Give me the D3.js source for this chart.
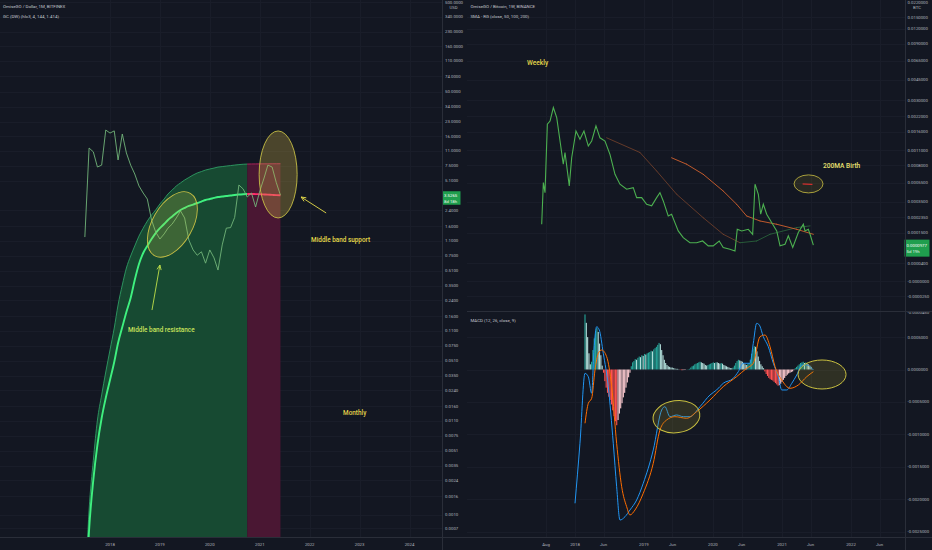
<!DOCTYPE html>
<html><head><meta charset="utf-8">
<script src="https://cdn.jsdelivr.net/npm/d3@7/dist/d3.min.js"></script>
<style>html,body{margin:0;padding:0;background:#131722;overflow:hidden}svg{display:block}</style>
</head><body>
<svg id="chart" width="932" height="550"></svg>
<script>
// ================= DATA =================
// --- Left pane: OmiseGO / Dollar, 1M (monthly) ---
const months = ['2017-07','2017-08','2017-09','2017-10','2017-11','2017-12',
  '2018-01','2018-02','2018-03','2018-04','2018-05','2018-06','2018-07','2018-08','2018-09','2018-10','2018-11','2018-12',
  '2019-01','2019-02','2019-03','2019-04','2019-05','2019-06','2019-07','2019-08','2019-09','2019-10','2019-11','2019-12',
  '2020-01','2020-02','2020-03','2020-04','2020-05','2020-06','2020-07','2020-08','2020-09','2020-10','2020-11','2020-12',
  '2021-01','2021-02','2021-03','2021-04','2021-05','2021-06'];
const omgUsd = [1.21,11.8,10.7,7.26,7.62,18.7,17.3,18.3,8.69,16.9,10.4,7.62,6.07,4.47,3.73,3.20,1.87,1.38,
  1.15,1.31,1.52,1.69,1.97,2.36,1.97,1.12,0.87,0.76,0.83,0.62,0.87,0.71,0.52,0.99,1.52,1.54,
  2.0,4.58,4.14,3.37,3.73,2.61,3.93,5.48,7.62,7.26,4.9,3.53];
const gcUpper = [0.000112,0.00112,0.0040,0.0112,0.0213,0.0383,0.0673,0.118,0.213,0.355,0.548,0.745,
  0.962,1.24,1.52,1.82,2.13,2.42,2.82,3.20,3.64,4.03,4.47,4.83,
  5.21,5.55,5.92,6.23,6.47,6.72,6.90,7.07,7.25,7.34,7.44,7.53,
  7.63,7.72,7.79,7.83,7.85,7.86,7.87,7.88,7.88,7.89,7.89,7.90];
const gcMid = [0.000067,0.000673,0.00242,0.00592,0.0118,0.0197,0.0312,0.0495,0.0805,0.121,0.178,0.255,
  0.403,0.607,0.805,0.962,1.15,1.34,1.52,1.69,1.87,2.05,2.24,2.42,
  2.55,2.68,2.78,2.89,3.00,3.12,3.20,3.29,3.37,3.41,3.46,3.50,
  3.55,3.59,3.62,3.64,3.64,3.63,3.62,3.60,3.58,3.56,3.54,3.53];
const gcRedFrom = '2020-10';
const leftPriceTicks = ['500.0000','340.0000','230.0000','160.0000','110.0000','74.0000','50.0000','34.0000','23.0000',
  '16.0000','11.0000','7.5000','5.1000','2.4000','1.6000','1.1000','0.7500','0.5100','0.3500','0.2400','0.1600',
  '0.1100','0.0750','0.0510','0.0350','0.0240','0.0160','0.0110','0.0075','0.0051','0.0035','0.0024','0.0016','0.0010','0.0007'];
const leftTimeTicks = ['2018','2019','2020','2021','2022','2023','2024'];
const leftLast = {price:'3.5265', left:'8d 18h'};

// --- Right pane: OmiseGO / Bitcoin, 1W (weekly), decimal-year time stamps ---
const wkTime = [2017.517,2017.541,2017.565,2017.599,2017.638,2017.686,2017.735,2017.783,2017.830,2017.855,2017.917,2017.952,
  2018.014,2018.072,2018.130,2018.193,2018.242,2018.304,2018.362,2018.435,2018.507,2018.580,2018.652,2018.749,2018.845,2018.894,2018.967,
  2019.039,2019.112,2019.184,2019.232,2019.280,2019.352,2019.401,2019.449,2019.497,2019.570,2019.667,2019.764,2019.851,2019.932,
  2020.004,2020.091,2020.149,2020.246,2020.319,2020.352,2020.416,2020.512,2020.575,2020.609,2020.657,2020.691,2020.729,2020.778,2020.851,2020.923,2020.971,
  2021.043,2021.091,2021.155,2021.236,2021.309,2021.333,2021.381,2021.406,2021.454];
const wkClose = [0.000194,0.000549,0.000436,0.00187,0.00199,0.00260,0.00213,0.00133,0.00082,0.00105,0.00051,0.00094,
  0.00163,0.00138,0.00163,0.00120,0.00133,0.00181,0.00142,0.00133,0.00101,0.00066,0.00053,0.000472,0.00049,0.000388,0.000388,
  0.00033,0.000317,0.000388,0.000436,0.000358,0.000244,0.000256,0.000203,0.000159,0.000128,0.000107,0.000107,0.000114,0.000095,
  0.000095,0.000114,0.000089,0.000083,0.000077,0.000167,0.000159,0.000167,0.000143,0.00053,0.00042,0.000256,0.00033,0.000256,0.000203,0.000159,0.000095,
  0.000101,0.000136,0.000089,0.000151,0.000194,0.000159,0.000167,0.000143,0.000098];
const sma50Time = [2018.459,2018.942,2019.184,2019.474,2019.859,2020.149,2020.391,2020.633,2020.826,2021.213,2021.406];
const sma50 = [0.00142,0.00105,0.000709,0.00042,0.000233,0.000143,0.000107,0.000114,0.000143,0.000176,0.000185];
const sma100Time = [2019.401,2019.619,2019.859,2020.149,2020.343,2020.488,2020.681,2020.923,2021.213,2021.454];
const sma100 = [0.00094,0.00082,0.00066,0.000453,0.00033,0.000244,0.000213,0.000194,0.000167,0.000143];
const sma200Time = [2021.304,2021.435];
const sma200 = [0.000532,0.000528];
const rightPriceTicks = ['0.0220000','0.0150000','0.0120000','0.0090000','0.0065000','0.0045000','0.0030000','0.0022000',
  '0.0016000','0.0011000','0.0008000','0.0005500','0.0003500','0.0002350','0.0001500','0.0000400','-0.0000000','-0.0000250','-0.0000450'];
const rightLast = {price:'0.0000977', left:'5d 19h'};

// --- MACD (12, 26, close, 9) ---
const histStart = 2018.145;           // first weekly histogram bar
const macdHist = [0.00085,0.00072,0.00050,0.00025,0.00008,
  0.00012,0.00030,0.00048,0.00060,0.00064,0.00058,0.00040,0.00022,0.00006,
  -0.00005,-0.00018,-0.00028,-0.00036,-0.00042,-0.00047,-0.00054,-0.00063,-0.00072,-0.00080,-0.00086,-0.00078,-0.00068,-0.00060,-0.00052,-0.00043,-0.00036,-0.00028,-0.00020,-0.00012,-0.00005,
  0.00005,0.00011,0.00013,0.00016,0.00015,0.00018,0.00020,0.00019,0.00022,0.00021,0.00024,0.00023,0.00025,0.00026,0.00027,0.00029,0.00028,0.00031,0.00033,0.00035,0.00038,0.00041,0.00039,0.00030,0.00022,0.00015,0.00010,0.00007,0.00005,0.00004,
  0.00003,0.00003,0.00002,0.000015,0.00001,0.00001,0.000005,-0.000005,-0.00001,-0.00001,-0.000008,-0.000005,0.000002,0.000005,0.00001,
  0.00003,0.00005,0.00006,0.00008,0.00009,0.00010,0.00011,0.00012,0.00011,0.00010,0.00009,0.00007,0.00006,0.00007,0.00008,0.00009,0.00010,0.00011,0.00010,0.00011,0.00011,0.00010,0.00009,0.00010,0.00009,0.00007,0.00006,0.00005,0.00004,0.00003,0.00002,0.00002,0.00003,
  0.00006,0.00010,0.00013,0.00015,0.00014,0.00013,0.00012,0.00010,0.00008,0.00007,0.00008,0.00010,0.00015,0.00024,0.00032,0.00036,0.00035,0.00028,0.00020,0.00013,0.00008,0.00005,0.00002,
  -0.00003,-0.00007,-0.00010,-0.00013,-0.00015,-0.00016,-0.00017,-0.00019,-0.00021,-0.00023,-0.00025,-0.00024,-0.00022,-0.00019,-0.00016,-0.00013,-0.00010,-0.00008,-0.00006,-0.00005,-0.00004,-0.00003,-0.00001,
  0.00002,0.00004,0.00006,0.00008,0.00010,0.00011,0.00012,0.00010,0.00011,0.00009,0.00008,0.00006,0.00004];
const macdTime = [2018.000,2018.072,2018.145,2018.193,2018.242,2018.275,2018.314,2018.352,2018.410,2018.483,2018.555,2018.604,2018.652,2018.725,2018.797,2018.894,2018.990,
  2019.135,2019.257,2019.304,2019.377,2019.474,2019.570,2019.667,2019.812,2019.957,2020.054,2020.149,2020.294,2020.367,2020.439,2020.536,2020.584,2020.633,2020.671,2020.729,2020.801,2020.874,2020.946,2020.996,
  2021.068,2021.141,2021.213,2021.286,2021.358,2021.454];
const macdLine = [-0.002065,-0.001139,-0.000059,-0.000111,-0.000367,0.000301,0.000660,0.000610,0.000250,-0.000265,-0.001139,-0.001809,-0.002323,-0.002272,-0.002168,-0.002014,-0.001756,
  -0.001242,-0.000625,-0.000574,-0.000728,-0.000702,-0.000728,-0.000728,-0.000574,-0.000394,-0.000316,-0.000213,-0.000136,-0.000034,0.000096,0.000096,0.000404,0.000713,0.000687,0.000506,0.000352,0.000096,-0.000111,-0.000316,
  -0.000316,-0.000213,-0.000085,0.000069,0.000069,-0.000008];
const signalTime = [2018.145,2018.193,2018.242,2018.290,2018.338,2018.387,2018.459,2018.532,2018.604,2018.677,2018.749,2018.797,2018.870,2018.990,
  2019.135,2019.232,2019.329,2019.449,2019.619,2019.764,2019.957,2020.149,2020.343,2020.488,2020.584,2020.681,2020.754,2020.826,2020.899,2020.996,
  2021.116,2021.236,2021.358,2021.454];
const signalLine = [-0.000830,-0.000522,-0.000444,-0.000008,0.000250,0.000301,0.000198,-0.000265,-0.001139,-0.001809,-0.002117,-0.002245,-0.002168,-0.001910,
  -0.001448,-0.000934,-0.000779,-0.000728,-0.000753,-0.000651,-0.000471,-0.000265,-0.000111,0.000019,0.000096,0.000506,0.000532,0.000352,0.000043,-0.000162,
  -0.000290,-0.000239,-0.000111,-0.000034];
const macdTicks = ['0.0005000','0.0000000','-0.0005000','-0.0010000','-0.0015000','-0.0020000','-0.0025000'];
const rightTimeTicks = [['2017-08-01','Aug'],['2018-01-01','2018'],['2018-06-01','Jun'],['2019-01-01','2019'],['2019-06-01','Jun'],
  ['2020-01-01','2020'],['2020-06-01','Jun'],['2021-01-01','2021'],['2021-06-01','Jun'],['2022-01-01','2022'],['2022-06-01','Jun']];

// --- Drawings (in data coordinates) ---
const leftNotes = [
  {text:'Middle band resistance', t:2018.361, v:0.1065, color:'#c9e35c'},
  {text:'Middle band support', t:2022.028, v:1.066, color:'#e6dc4a'},
  {text:'Monthly', t:2022.669, v:0.01272, color:'#e3d24a'}];
const leftEllipses = [{t:2019.25, v:1.67, rx:20, ry:36, rot:30, fill:'rgba(200,200,70,0.22)'},
                      {t:2021.367, v:6.0, rx:19, ry:43.5, rot:0, fill:'rgba(205,175,70,0.30)'}];
const leftArrows = [{t0:2018.842, v0:0.187, t1:2019.0, v1:0.592, color:'#c0e04a'},
                    {t0:2022.329, v0:2.24, t1:2021.828, v1:3.37, color:'#e6dc4a'}];
const rightNotes = [{text:'Weekly', t:2017.304, v:0.00597, color:'#e3d84a'},
                    {text:'200MA Birth', t:2021.594, v:0.000757, color:'#e8e070'}];
const birthEllipse = {t:2021.384, v:0.000533, rx:14.5, ry:9};
const macdEllipses = [{t:2019.471, v:-0.000728, rx:23.5, ry:16, rot:-8}, {t:2021.580, v:-0.000077, rx:24, ry:14.5, rot:0}];

// ================= RENDER =================
const FONT = 'Roboto, "Liberation Sans", Arial, sans-serif';
const BG = '#131722', GRID = '#191d29', BORDER = '#2a2e39', TXT = '#b2b5be';
const svg = d3.select('#chart');
svg.append('rect').attr('width',932).attr('height',550).attr('fill',BG);
const defs = svg.append('defs');
function clip(id,x,y,w,h){defs.append('clipPath').attr('id',id).append('rect').attr('x',x).attr('y',y).attr('width',w).attr('height',h);return `url(#${id})`;}
const cL = clip('cl',0,0,442,537), cT = clip('ct',467,0,438,311), cM = clip('cm',467,312,438,225);
function marker(id,color){defs.append('marker').attr('id',id).attr('viewBox','0 0 10 10').attr('refX',9).attr('refY',5)
  .attr('markerUnits','userSpaceOnUse').attr('markerWidth',6).attr('markerHeight',6).attr('orient','auto')
  .append('path').attr('d','M1,1.5 L9,5 L1,8.5').attr('fill','none').attr('stroke',color).attr('stroke-width',1.4);}

const yrDate = d => {const y=Math.floor(d);const s=Date.UTC(y,0,1),e=Date.UTC(y+1,0,1);return new Date(s+(d-y)*(e-s));};
const monDate = s => new Date(s+'-01T00:00:00Z');
const dayDate = s => new Date(s+'T00:00:00Z');
const labelY = y => Math.max(y, 2.4);   // keep top-most axis labels inside the picture

// ---------- LEFT PANE ----------
const xL = d3.scaleUtc().domain([Date.UTC(2018,0,1),Date.UTC(2024,0,1)]).range([110,409.5]);
const yL = d3.scaleLog().domain([1,1000]).range([244.5,-25.5]);
const gL = svg.append('g');
const gridL = gL.append('g').attr('stroke',GRID).attr('stroke-width',1);
leftPriceTicks.forEach(s=>{const y=Math.round(yL(+s))+0.5;gridL.append('line').attr('x1',0).attr('x2',442).attr('y1',y).attr('y2',y);});
leftTimeTicks.forEach(s=>{const x=Math.round(xL(dayDate(s+'-01-01')))+0.5;gridL.append('line').attr('x1',x).attr('x2',x).attr('y1',0).attr('y2',537);});

const recL = months.map((m,i)=>({t:monDate(m),up:gcUpper[i],mid:gcMid[i],px:omgUsd[i]}));
const iRed = months.indexOf(gcRedFrom);
const grn = recL.slice(0,iRed+1), red = recL.slice(iRed);
const pL = gL.append('g').attr('clip-path',cL);
const areaUp = d3.area().x(d=>xL(d.t)).y0(537).y1(d=>yL(d.up)).curve(d3.curveMonotoneX);
pL.append('path').datum(grn).attr('d',areaUp).attr('fill','#174a32');
pL.append('path').datum(red).attr('d',areaUp).attr('fill','#4a1733');
const lUp = d3.line().x(d=>xL(d.t)).y(d=>yL(d.up)).curve(d3.curveMonotoneX);
const lMid = d3.line().x(d=>xL(d.t)).y(d=>yL(d.mid)).curve(d3.curveMonotoneX);
pL.append('path').datum(grn).attr('d',lUp).attr('fill','none').attr('stroke','#2f9d64').attr('stroke-width',0.9);
pL.append('path').datum(red).attr('d',lUp).attr('fill','none').attr('stroke','#b8245e').attr('stroke-width',0.9);
pL.append('path').datum(grn).attr('d',lMid).attr('fill','none').attr('stroke','#3ff07f').attr('stroke-width',1.9);
pL.append('path').datum(red).attr('d',lMid).attr('fill','none').attr('stroke','#ff2d6b').attr('stroke-width',1.9);
pL.append('path').datum(recL).attr('d',d3.line().x(d=>xL(d.t)).y(d=>yL(d.px))).attr('fill','none').attr('stroke','#72b479').attr('stroke-width',0.9);

leftEllipses.forEach(e=>{const cx=xL(yrDate(e.t)),cy=yL(e.v);
  pL.append('ellipse').attr('cx',0).attr('cy',0).attr('rx',e.rx).attr('ry',e.ry).attr('transform',`translate(${cx},${cy}) rotate(${e.rot})`)
   .attr('fill',e.fill).attr('stroke','#c7bf45').attr('stroke-width',0.9);});
leftArrows.forEach((a,i)=>{marker('al'+i,a.color);
  pL.append('line').attr('x1',xL(yrDate(a.t0))).attr('y1',yL(a.v0)).attr('x2',xL(yrDate(a.t1))).attr('y2',yL(a.v1))
   .attr('stroke',a.color).attr('stroke-width',0.9).attr('marker-end',`url(#al${i})`);});
leftNotes.forEach(n=>pL.append('text').attr('x',xL(yrDate(n.t))).attr('y',yL(n.v)).attr('fill',n.color)
  .attr('font-family',FONT).attr('font-size',6.4).attr('font-weight',500).text(n.text));

// left axes text
const axL = gL.append('g').attr('font-family',FONT).attr('font-size',4.3).attr('fill',TXT);
leftPriceTicks.forEach(s=>axL.append('text').attr('x',445).attr('y',labelY(yL(+s))).attr('dy','0.35em').text(s));
axL.append('text').attr('x',453.5).attr('y',7.5).attr('dy','0.35em').attr('text-anchor','middle').text('USD');
leftTimeTicks.forEach(s=>axL.append('text').attr('x',xL(dayDate(s+'-01-01'))).attr('y',544.5).attr('dy','0.35em').attr('text-anchor','middle').text(s));
{const y=yL(+leftLast.price);
 gL.append('rect').attr('x',442).attr('y',y-4).attr('width',18.5).attr('height',13.5).attr('fill','#1f9e4e');
 gL.append('text').attr('x',444).attr('y',y).attr('dy','0.35em').attr('font-family',FONT).attr('font-size',4.3).attr('fill','#ffffff').text(leftLast.price);
 gL.append('text').attr('x',444).attr('y',y+6).attr('dy','0.35em').attr('font-family',FONT).attr('font-size',4.3).attr('fill','#e8f5e9').text(leftLast.left);}
gL.append('text').attr('x',3).attr('y',6).attr('dy','0.35em').attr('font-family',FONT).attr('font-size',4.4).attr('fill','#c3c6ce').text('OmiseGO / Dollar, 1M, BITFINEX');
gL.append('text').attr('x',3).attr('y',16).attr('dy','0.35em').attr('font-family',FONT).attr('font-size',4.4).attr('fill','#c3c6ce').text('GC (DW) (hlc3, 4, 144, 1.414)');

// ---------- RIGHT PANE ----------
const xR = d3.scaleUtc().domain([Date.UTC(2018,0,1),Date.UTC(2022,0,1)]).range([575,851]);
const OFF = 1e-4;
const lgT = d3.scaleLog().domain([0.015+OFF, OFF]).range([17,281]);
const yT = v => lgT(v+OFF);
const yM = d3.scaleLinear().domain([0,-0.0025]).range([369.5,531.5]);
const gR = svg.append('g');
const gridR = gR.append('g').attr('stroke',GRID).attr('stroke-width',1);
rightPriceTicks.forEach(s=>{const y=Math.round(yT(+s))+0.5;if(y<311&&y>0)gridR.append('line').attr('x1',467).attr('x2',905).attr('y1',y).attr('y2',y);});
macdTicks.forEach(s=>{const y=Math.round(yM(+s))+0.5;gridR.append('line').attr('x1',467).attr('x2',905).attr('y1',y).attr('y2',y);});
rightTimeTicks.forEach(([d])=>{const x=Math.round(xR(dayDate(d)))+0.5;gridR.append('line').attr('x1',x).attr('x2',x).attr('y1',0).attr('y2',537);});

const pT = gR.append('g').attr('clip-path',cT);
const wk = wkTime.map((t,i)=>({t:yrDate(t),v:wkClose[i]}));
function slopeLine(g,times,vals,cDown,cUp,w,op){
  const pts = times.map((t,i)=>({t:yrDate(t),v:vals[i]}));
  d3.pairs(pts).forEach(([a,b])=>g.append('line').attr('x1',xR(a.t)).attr('y1',yT(a.v)).attr('x2',xR(b.t)).attr('y2',yT(b.v))
    .attr('stroke',b.v<a.v?cDown:cUp).attr('stroke-width',w).attr('stroke-opacity',op).attr('stroke-linecap','round'));
}
slopeLine(pT,sma50Time,sma50,'#8a4a2c','#2f7a42',0.8,0.85);
slopeLine(pT,sma100Time,sma100,'#d0602e','#3a9a52',1.0,0.9);
pT.append('path').datum(wk).attr('d',d3.line().x(d=>xR(d.t)).y(d=>yT(d.v))).attr('fill','none').attr('stroke','#4cb050').attr('stroke-width',1.1);
pT.append('ellipse').attr('cx',xR(yrDate(birthEllipse.t))).attr('cy',yT(birthEllipse.v)).attr('rx',birthEllipse.rx).attr('ry',birthEllipse.ry)
  .attr('fill','rgba(140,130,45,0.18)').attr('stroke','#b8ae3e').attr('stroke-width',0.9);
slopeLine(pT,sma200Time,sma200,'#ff3030','#ff3030',1.0,1);
rightNotes.forEach(n=>pT.append('text').attr('x',xR(yrDate(n.t))).attr('y',yT(n.v)).attr('fill',n.color)
  .attr('font-family',FONT).attr('font-size',6.6).attr('font-weight',500).text(n.text));

// MACD
const pM = gR.append('g').attr('clip-path',cM);
const h0 = yrDate(histStart).getTime();
const bars = macdHist.map((v,i)=>({t:new Date(h0+i*7*864e5),v,prev:i?macdHist[i-1]:0}));
pM.selectAll('rect.h').data(bars).join('rect')
  .attr('x',d=>xR(d.t)-0.55).attr('width',1.1)
  .attr('y',d=>Math.min(yM(d.v),yM(0))).attr('height',d=>Math.abs(yM(d.v)-yM(0)))
  .attr('fill',d=>d.v>=0?(d.v>d.prev?'#26a69a':'#b2dfdb'):(d.v<d.prev?'#ff5252':'#ffcdd2'));
const lm = d3.line().x(d=>xR(d.t)).y(d=>yM(d.v)).curve(d3.curveMonotoneX);
pM.append('path').datum(macdTime.map((t,i)=>({t:yrDate(t),v:macdLine[i]}))).attr('d',lm).attr('fill','none').attr('stroke','#2196f3').attr('stroke-width',1);
pM.append('path').datum(signalTime.map((t,i)=>({t:yrDate(t),v:signalLine[i]}))).attr('d',lm).attr('fill','none').attr('stroke','#ff6d00').attr('stroke-width',1);
macdEllipses.forEach(e=>pM.append('ellipse').attr('cx',0).attr('cy',0).attr('rx',e.rx).attr('ry',e.ry)
  .attr('transform',`translate(${xR(yrDate(e.t))},${yM(e.v)}) rotate(${e.rot})`)
  .attr('fill','rgba(150,140,45,0.22)').attr('stroke','#c9c040').attr('stroke-width',1));

// right axes text
const axR = gR.append('g').attr('font-family',FONT).attr('font-size',4.3).attr('fill',TXT);
rightPriceTicks.forEach(s=>axR.append('text').attr('x',907.5).attr('y',labelY(yT(+s))).attr('dy','0.35em').text(s));
axR.append('text').attr('x',917).attr('y',7.5).attr('dy','0.35em').attr('text-anchor','middle').text('BTC');
macdTicks.forEach(s=>axR.append('text').attr('x',907.5).attr('y',yM(+s)).attr('dy','0.35em').text(s));
rightTimeTicks.forEach(([d,s])=>axR.append('text').attr('x',xR(dayDate(d))).attr('y',544.5).attr('dy','0.35em').attr('text-anchor','middle').text(s));
{const y=yT(+rightLast.price);
 gR.append('rect').attr('x',904.5).attr('y',y-5.5).attr('width',25).attr('height',17).attr('fill','#1f9e4e');
 gR.append('text').attr('x',906.5).attr('y',y).attr('dy','0.35em').attr('font-family',FONT).attr('font-size',4.3).attr('fill','#ffffff').text(rightLast.price);
 gR.append('text').attr('x',906.5).attr('y',y+6.5).attr('dy','0.35em').attr('font-family',FONT).attr('font-size',4.3).attr('fill','#e8f5e9').text(rightLast.left);}
gR.append('text').attr('x',470.5).attr('y',6).attr('dy','0.35em').attr('font-family',FONT).attr('font-size',4.4).attr('fill','#c3c6ce').text('OmiseGO / Bitcoin, 1W, BINANCE');
gR.append('text').attr('x',470.5).attr('y',16).attr('dy','0.35em').attr('font-family',FONT).attr('font-size',4.4).attr('fill','#c3c6ce').text('SMA - RG (close, 50, 100, 200)');
gR.append('text').attr('x',470.5).attr('y',320).attr('dy','0.35em').attr('font-family',FONT).attr('font-size',4.4).attr('fill','#c3c6ce').text('MACD (12, 26, close, 9)');

// borders
const bd = svg.append('g').attr('stroke',BORDER).attr('stroke-width',1);
bd.append('line').attr('x1',442.5).attr('x2',442.5).attr('y1',0).attr('y2',550);
bd.append('line').attr('x1',905.5).attr('x2',905.5).attr('y1',0).attr('y2',550);
bd.append('line').attr('x1',0).attr('x2',932).attr('y1',537.5).attr('y2',537.5);
bd.append('line').attr('x1',467).attr('x2',932).attr('y1',311.5).attr('y2',311.5);
</script>
</body></html>
